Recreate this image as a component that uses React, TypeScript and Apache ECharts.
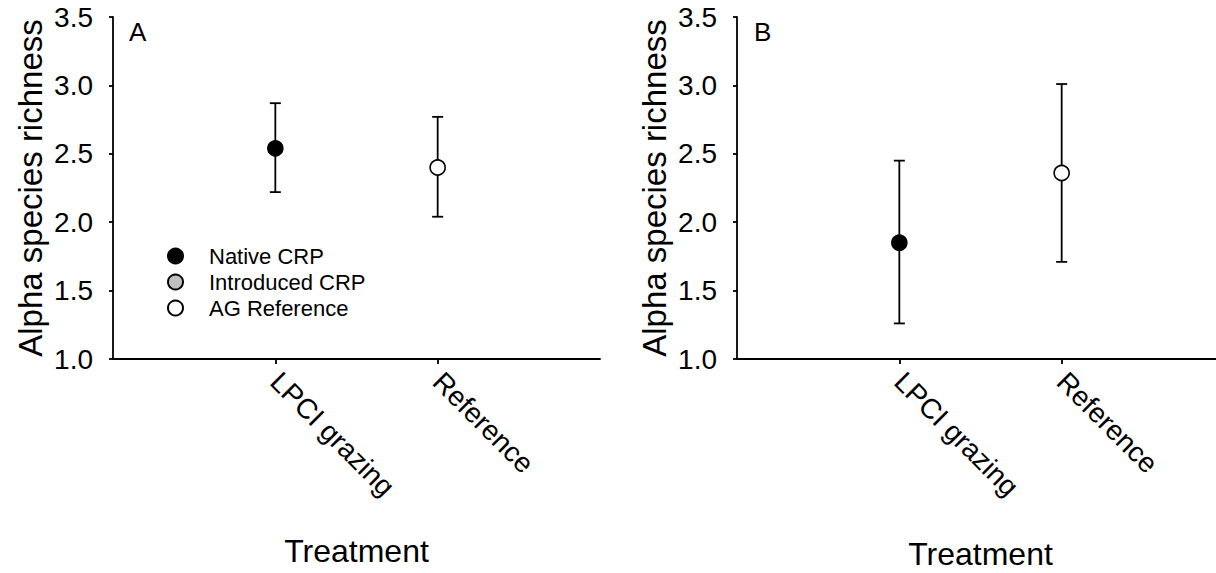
import React, { useEffect, useRef } from "react";
import * as echarts from "echarts";

const categories = ["", "LPCI grazing", "Reference", ""];
const yTicks = [1.0, 1.5, 2.0, 2.5, 3.0, 3.5];
const legendNames = ["Native CRP", "Introduced CRP", "AG Reference"];

// Panel A: [categoryIndex, mean, low, high]
const nativeA = [[1, 2.54, 2.22, 2.87]];
const refA = [[2, 2.4, 2.04, 2.77]];
// Panel B
const nativeB = [[1, 1.85, 1.26, 2.45]];
const refB = [[2, 2.36, 1.71, 3.01]];
const introducedA: number[][] = [];

const FONT = "Liberation Sans, Arial, Helvetica, sans-serif";

function errorBar(gridIdx: number, rows: number[][]) {
  return {
    type: "custom",
    xAxisIndex: gridIdx,
    yAxisIndex: gridIdx,
    silent: true,
    z: 1,
    data: rows.map((r) => [r[0], r[2], r[3]]),
    renderItem: (params: any, api: any) => {
      const x = api.value(0);
      const lo = api.coord([x, api.value(1)]);
      const hi = api.coord([x, api.value(2)]);
      const hw = 5.5;
      const style = { stroke: "#000", lineWidth: 1.8 };
      return {
        type: "group",
        children: [
          { type: "line", shape: { x1: lo[0], y1: lo[1], x2: hi[0], y2: hi[1] }, style },
          { type: "line", shape: { x1: lo[0] - hw, y1: lo[1], x2: lo[0] + hw, y2: lo[1] }, style },
          { type: "line", shape: { x1: hi[0] - hw, y1: hi[1], x2: hi[0] + hw, y2: hi[1] }, style },
        ],
      };
    },
  };
}

function xAxis(gridIndex: number, gap: number) {
  return {
    type: "category",
    gridIndex,
    data: categories,
    boundaryGap: false,
    name: "Treatment",
    nameLocation: "middle",
    nameGap: gap,
    nameTextStyle: { fontFamily: FONT, fontSize: 32, color: "#000" },
    axisLine: { lineStyle: { color: "#000", width: 1.8 } },
    axisTick: {
      show: true,
      length: 5,
      interval: (i: number) => i === 1 || i === 2,
      lineStyle: { color: "#000", width: 1.8 },
    },
    axisLabel: {
      interval: (i: number) => i === 1 || i === 2,
      rotate: -45,
      margin: 18,
      fontFamily: FONT,
      fontSize: 28,
      color: "#000",
    },
    splitLine: { show: false },
  };
}

function yAxis(gridIndex: number) {
  return {
    type: "value",
    gridIndex,
    min: 1.0,
    max: 3.5,
    interval: 0.5,
    name: "Alpha species richness",
    nameLocation: "middle",
    nameRotate: 90,
    nameGap: 66,
    nameTextStyle: { fontFamily: FONT, fontSize: 33, color: "#000" },
    axisLine: { show: true, lineStyle: { color: "#000", width: 1.8 } },
    axisTick: { show: true, length: 4, lineStyle: { color: "#000", width: 1.8 } },
    axisLabel: {
      fontFamily: FONT,
      fontSize: 28,
      color: "#000",
      margin: 20,
      formatter: (v: number) => (yTicks.includes(v) ? v.toFixed(1) : ""),
    },
    splitLine: { show: false },
  };
}

function scatter(name: string, gridIdx: number, rows: number[][], fill: string) {
  return {
    type: "scatter",
    name,
    xAxisIndex: gridIdx,
    yAxisIndex: gridIdx,
    z: 3,
    symbol: "circle",
    symbolSize: 15,
    itemStyle: { color: fill, borderColor: "#000", borderWidth: 1.6, opacity: 1 },
    data: rows.map((r) => [r[0], r[1]]),
  };
}

export default function App() {
  const ref = useRef<HTMLDivElement>(null);
  useEffect(() => {
    if (!ref.current) return;
    const chart = echarts.init(ref.current, undefined, { renderer: "svg" });
    chart.setOption({
      animation: false,
      backgroundColor: "#fff",
      textStyle: { fontFamily: FONT },
      grid: [
        { left: 113, top: 17, width: 487, height: 342, containLabel: false, outerBoundsMode: "none" },
        { left: 737, top: 17, width: 487, height: 342, containLabel: false, outerBoundsMode: "none" },
      ],
      xAxis: [xAxis(0, 176), xAxis(1, 179)],
      yAxis: [yAxis(0), yAxis(1)],
      legend: {
        orient: "vertical",
        left: 162,
        top: 240,
        itemGap: 4,
        itemWidth: 15,
        itemHeight: 15,
        icon: "circle",
        data: legendNames,
        selectedMode: false,
        textStyle: {
          fontFamily: FONT,
          fontSize: 22,
          color: "#000",
          padding: [0, 0, 0, 21],
        },
      },
      graphic: [
        { type: "text", left: 129, top: 19, style: { text: "A", fontFamily: FONT, fontSize: 26, fill: "#000" } },
        { type: "text", left: 754, top: 19, style: { text: "B", fontFamily: FONT, fontSize: 26, fill: "#000" } },
      ],
      series: [
        errorBar(0, nativeA),
        errorBar(0, refA),
        errorBar(1, nativeB),
        errorBar(1, refB),
        scatter("Native CRP", 0, nativeA, "#000"),
        scatter("Introduced CRP", 0, introducedA, "#c0c0c0"),
        scatter("AG Reference", 0, refA, "#fff"),
        scatter("Native CRP", 1, nativeB, "#000"),
        scatter("AG Reference", 1, refB, "#fff"),
      ],
    });
    return () => chart.dispose();
  }, []);
  return (
    <div
      ref={ref}
      style={{ position: "fixed", left: 0, top: 0, width: 1216, height: 573, background: "#fff" }}
    />
  );
}
